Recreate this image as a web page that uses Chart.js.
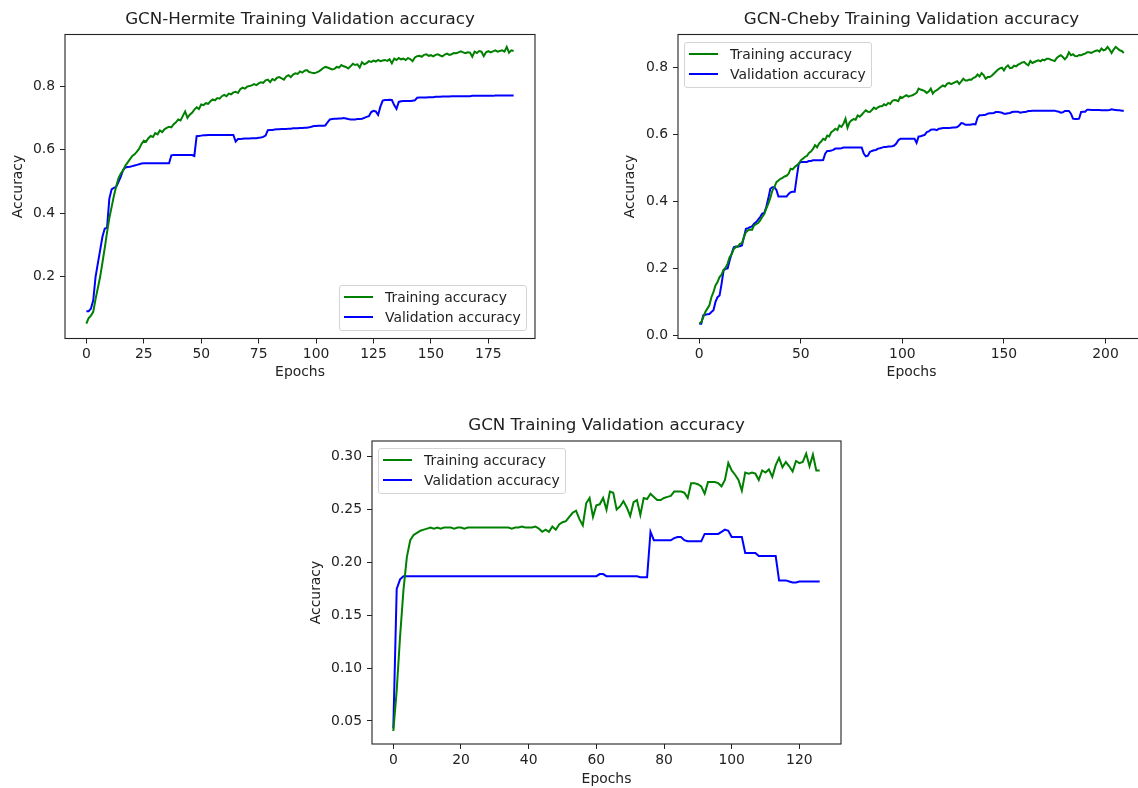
<!DOCTYPE html>
<html>
<head>
<meta charset="utf-8">
<title>GCN Training Validation accuracy</title>
<script src="https://cdn.jsdelivr.net/npm/chart.js@4.4.1/dist/chart.umd.min.js"></script>
<style>
    body { margin: 0; width: 1138px; height: 788px; overflow: hidden; background: #fff; font-family: "DejaVu Sans", sans-serif; }
    canvas { position: absolute; }
    .legend { position: absolute; width: 188px; height: 46px; box-sizing: border-box; border: 1px solid #d4d4d4; border-radius: 3px; background: rgba(255,255,255,0.8); font-size: 13.9px; color: #222; }
    .legend div { position: absolute; left: 4px; height: 20px; display: flex; align-items: center; white-space: nowrap; }
    .legend span { display: inline-block; width: 29px; height: 2px; margin-right: 12px; }
</style>
</head>
<body>
<canvas id="hermite" width="560" height="395" style="left:0px;top:0px"></canvas>
<canvas id="cheby" width="560" height="395" style="left:600px;top:0px"></canvas>
<canvas id="gcn" width="581" height="388" style="left:280px;top:400px"></canvas>
<script>
// GCN-Hermite, epochs 0..186
const hermiteTrain = [
    0.053, 0.07, 0.078, 0.09, 0.13, 0.165, 0.2, 0.245, 0.29, 0.34,
    0.385, 0.42, 0.455, 0.485, 0.51, 0.525, 0.535, 0.55, 0.56, 0.57,
    0.58, 0.585, 0.594, 0.603, 0.618, 0.628, 0.625, 0.636, 0.643, 0.64,
    0.652, 0.648, 0.66, 0.655, 0.664, 0.668, 0.672, 0.67, 0.68, 0.686,
    0.695, 0.692, 0.706, 0.72, 0.7, 0.71, 0.716, 0.726, 0.733, 0.728,
    0.742, 0.74, 0.746, 0.744, 0.752, 0.758, 0.755, 0.762, 0.76, 0.768,
    0.772, 0.768, 0.776, 0.774, 0.78, 0.782, 0.778, 0.79, 0.795, 0.792,
    0.798, 0.8, 0.802, 0.806, 0.803, 0.808, 0.812, 0.81, 0.818, 0.82,
    0.812, 0.822, 0.818, 0.826, 0.828, 0.824, 0.82, 0.83, 0.834, 0.828,
    0.836, 0.84, 0.838, 0.846, 0.842, 0.848, 0.85, 0.844, 0.842, 0.84,
    0.842, 0.845, 0.85, 0.856, 0.86, 0.858, 0.855, 0.852, 0.854, 0.86,
    0.858, 0.866, 0.862, 0.86, 0.855, 0.862, 0.87, 0.866, 0.868, 0.858,
    0.875, 0.868, 0.872, 0.878, 0.876, 0.88, 0.877, 0.882, 0.878, 0.88,
    0.882, 0.879, 0.884, 0.871, 0.886, 0.882, 0.888, 0.884, 0.886, 0.882,
    0.888, 0.885, 0.878, 0.89, 0.894, 0.895, 0.892, 0.898, 0.9, 0.895,
    0.897, 0.893, 0.898, 0.9, 0.896, 0.893, 0.899, 0.902, 0.898, 0.9,
    0.904, 0.903, 0.906, 0.909, 0.906, 0.903, 0.906, 0.905, 0.892, 0.908,
    0.904, 0.91, 0.908, 0.894, 0.906, 0.91, 0.906, 0.909, 0.912, 0.908,
    0.91, 0.912, 0.908, 0.923, 0.905, 0.912, 0.91
];
const hermiteVal = [
    0.092, 0.092, 0.1, 0.126, 0.2, 0.242, 0.284, 0.326, 0.352, 0.354,
    0.446, 0.475, 0.48, 0.483, 0.499, 0.515, 0.536, 0.544, 0.545, 0.546,
    0.548, 0.55, 0.552, 0.554, 0.556, 0.557, 0.557, 0.557, 0.557, 0.557,
    0.557, 0.557, 0.557, 0.557, 0.557, 0.557, 0.557, 0.582, 0.583, 0.583,
    0.583, 0.583, 0.583, 0.583, 0.583, 0.583, 0.583, 0.58, 0.642, 0.643,
    0.644, 0.645, 0.645, 0.646, 0.646, 0.646, 0.646, 0.646, 0.646, 0.646,
    0.646, 0.646, 0.646, 0.646, 0.646, 0.625, 0.633, 0.633, 0.634, 0.635,
    0.635, 0.635, 0.636, 0.636, 0.636, 0.637, 0.638, 0.64, 0.644, 0.661,
    0.662, 0.662, 0.663, 0.664, 0.664, 0.665, 0.665, 0.665, 0.666, 0.666,
    0.667, 0.667, 0.667, 0.668, 0.668, 0.669, 0.669, 0.67, 0.672, 0.674,
    0.674, 0.675, 0.675, 0.675, 0.676, 0.686, 0.695, 0.696, 0.697, 0.697,
    0.698, 0.698, 0.699, 0.698, 0.696, 0.695, 0.695, 0.695, 0.696, 0.696,
    0.697, 0.7, 0.703, 0.705, 0.718, 0.722, 0.72, 0.709, 0.735, 0.754,
    0.756, 0.756, 0.757, 0.756, 0.74, 0.728, 0.75, 0.752, 0.753, 0.753,
    0.753, 0.753, 0.754, 0.755, 0.763, 0.764, 0.764, 0.764, 0.764, 0.765,
    0.765, 0.765, 0.766, 0.766, 0.766, 0.767, 0.767, 0.767, 0.767, 0.768,
    0.768, 0.768, 0.768, 0.768, 0.768, 0.768, 0.768, 0.768, 0.769, 0.769,
    0.769, 0.769, 0.769, 0.769, 0.769, 0.769, 0.769, 0.769, 0.77, 0.77,
    0.77, 0.77, 0.77, 0.77, 0.77, 0.77, 0.77
];

// GCN-Cheby, epochs 0..209
const chebyTrain = [
    0.035, 0.04, 0.055, 0.07, 0.08, 0.09, 0.114, 0.129, 0.149, 0.159,
    0.174, 0.181, 0.196, 0.202, 0.215, 0.234, 0.242, 0.258, 0.263, 0.265,
    0.273, 0.275, 0.293, 0.308, 0.313, 0.316, 0.315, 0.328, 0.332, 0.335,
    0.343, 0.353, 0.362, 0.378, 0.393, 0.41, 0.432, 0.442, 0.457, 0.462,
    0.467, 0.47, 0.474, 0.476, 0.482, 0.497, 0.495, 0.502, 0.507, 0.512,
    0.522, 0.527, 0.532, 0.535, 0.544, 0.548, 0.556, 0.567, 0.561, 0.572,
    0.578, 0.586, 0.583, 0.596, 0.593, 0.606, 0.61, 0.616, 0.612, 0.626,
    0.622, 0.631, 0.646, 0.619, 0.635, 0.641, 0.645, 0.643, 0.656, 0.652,
    0.658, 0.665, 0.671, 0.667, 0.666, 0.672, 0.679, 0.675, 0.68, 0.683,
    0.683, 0.689, 0.686, 0.693, 0.69, 0.699, 0.702, 0.701, 0.698, 0.711,
    0.708, 0.713, 0.716, 0.712, 0.714, 0.716, 0.719, 0.723, 0.736, 0.733,
    0.731, 0.728, 0.723, 0.727, 0.736, 0.721, 0.728, 0.731, 0.736, 0.741,
    0.745, 0.742, 0.75, 0.753, 0.749, 0.752, 0.755, 0.758, 0.75, 0.757,
    0.765, 0.76, 0.76, 0.763, 0.762, 0.768, 0.77, 0.778, 0.772, 0.782,
    0.776, 0.765, 0.77, 0.77, 0.774, 0.78, 0.786, 0.792, 0.796, 0.798,
    0.79, 0.8, 0.805, 0.797, 0.798, 0.804, 0.802, 0.807, 0.81, 0.814,
    0.815, 0.809, 0.805, 0.818, 0.812, 0.815, 0.818, 0.82, 0.817, 0.822,
    0.82, 0.825, 0.825, 0.822, 0.82, 0.818, 0.827, 0.832, 0.835, 0.83,
    0.823, 0.83, 0.844, 0.835, 0.838, 0.833, 0.832, 0.836, 0.835, 0.838,
    0.84, 0.844, 0.844, 0.842, 0.845, 0.848, 0.85, 0.846, 0.855, 0.85,
    0.852, 0.86, 0.852, 0.842, 0.852, 0.86, 0.855, 0.85, 0.848, 0.842
];
const chebyVal = [
    0.035, 0.035, 0.06, 0.062, 0.063, 0.064, 0.07, 0.075, 0.1, 0.114,
    0.119, 0.154, 0.194, 0.199, 0.2, 0.224, 0.245, 0.263, 0.265, 0.265,
    0.266, 0.268, 0.293, 0.318, 0.32, 0.323, 0.325, 0.333, 0.338, 0.345,
    0.353, 0.363, 0.365, 0.383, 0.408, 0.437, 0.442, 0.442, 0.434, 0.414,
    0.414, 0.414, 0.414, 0.414, 0.422, 0.427, 0.428, 0.428, 0.472, 0.512,
    0.517, 0.517, 0.517, 0.517, 0.52, 0.52, 0.522, 0.522, 0.522, 0.522,
    0.522, 0.523, 0.542, 0.55, 0.55, 0.551, 0.553, 0.557, 0.557, 0.557,
    0.558, 0.56, 0.56, 0.56, 0.56, 0.56, 0.56, 0.56, 0.56, 0.56,
    0.56, 0.542, 0.534, 0.536, 0.547, 0.55, 0.552, 0.553, 0.557, 0.558,
    0.56, 0.562, 0.562, 0.563, 0.563, 0.564, 0.566, 0.572, 0.582, 0.586,
    0.586, 0.586, 0.586, 0.586, 0.586, 0.586, 0.586, 0.574, 0.593, 0.594,
    0.596, 0.598, 0.606, 0.608, 0.613, 0.614, 0.614, 0.612, 0.616, 0.617,
    0.618, 0.618, 0.618, 0.618, 0.619, 0.62, 0.62, 0.621, 0.626, 0.633,
    0.632, 0.628, 0.628, 0.628, 0.629, 0.63, 0.629, 0.649, 0.656, 0.656,
    0.657, 0.658, 0.661, 0.662, 0.662, 0.663, 0.666, 0.666, 0.665, 0.664,
    0.661, 0.661, 0.662, 0.663, 0.666, 0.667, 0.667, 0.667, 0.664, 0.665,
    0.666, 0.667, 0.669, 0.669, 0.67, 0.67, 0.67, 0.67, 0.67, 0.67,
    0.67, 0.67, 0.67, 0.67, 0.67, 0.67, 0.668, 0.667, 0.664, 0.665,
    0.669, 0.669, 0.669, 0.661, 0.646, 0.645, 0.645, 0.646, 0.666, 0.667,
    0.667, 0.673, 0.673, 0.672, 0.672, 0.672, 0.672, 0.672, 0.671, 0.671,
    0.671, 0.671, 0.672, 0.674, 0.673, 0.672, 0.671, 0.671, 0.67, 0.67
];

// plain GCN, epochs 0..126
const gcnTrain = [
    0.0405, 0.079, 0.13, 0.174, 0.205, 0.221, 0.226, 0.228, 0.23, 0.231,
    0.232, 0.233, 0.232, 0.233, 0.232, 0.233, 0.233, 0.233, 0.232, 0.233,
    0.233, 0.232, 0.233, 0.233, 0.233, 0.233, 0.233, 0.233, 0.233, 0.233,
    0.233, 0.233, 0.233, 0.233, 0.233, 0.232, 0.233, 0.233, 0.234, 0.233,
    0.233, 0.233, 0.234, 0.232, 0.229, 0.231, 0.229, 0.234, 0.231, 0.236,
    0.238, 0.239, 0.243, 0.247, 0.249, 0.241, 0.235, 0.256, 0.261, 0.243,
    0.254, 0.255, 0.261, 0.25, 0.267, 0.266, 0.25, 0.253, 0.258, 0.252,
    0.244, 0.257, 0.259, 0.245, 0.261, 0.26, 0.265, 0.262, 0.259, 0.259,
    0.261, 0.262, 0.263, 0.267, 0.267, 0.267, 0.266, 0.261, 0.275, 0.275,
    0.274, 0.272, 0.265, 0.276, 0.276, 0.276, 0.275, 0.272, 0.278, 0.294,
    0.287, 0.283, 0.278, 0.268, 0.285, 0.284, 0.285, 0.284, 0.278, 0.287,
    0.285, 0.288, 0.281, 0.292, 0.299, 0.29, 0.295, 0.291, 0.286, 0.296,
    0.294, 0.295, 0.303, 0.291, 0.302, 0.287, 0.287
];
const gcnVal = [
    0.043, 0.175, 0.184, 0.187, 0.187, 0.187, 0.187, 0.187, 0.187, 0.187,
    0.187, 0.187, 0.187, 0.187, 0.187, 0.187, 0.187, 0.187, 0.187, 0.187,
    0.187, 0.187, 0.187, 0.187, 0.187, 0.187, 0.187, 0.187, 0.187, 0.187,
    0.187, 0.187, 0.187, 0.187, 0.187, 0.187, 0.187, 0.187, 0.187, 0.187,
    0.187, 0.187, 0.187, 0.187, 0.187, 0.187, 0.187, 0.187, 0.187, 0.187,
    0.187, 0.187, 0.187, 0.187, 0.187, 0.187, 0.187, 0.187, 0.187, 0.187,
    0.187, 0.189, 0.189, 0.187, 0.187, 0.187, 0.187, 0.187, 0.187, 0.187,
    0.187, 0.187, 0.187, 0.186, 0.186, 0.186, 0.229, 0.221, 0.221, 0.221,
    0.221, 0.221, 0.221, 0.223, 0.224, 0.224, 0.221, 0.22, 0.22, 0.22,
    0.22, 0.22, 0.227, 0.227, 0.227, 0.227, 0.227, 0.229, 0.231, 0.23,
    0.224, 0.224, 0.224, 0.224, 0.209, 0.209, 0.209, 0.209, 0.206, 0.206,
    0.206, 0.206, 0.206, 0.206, 0.183, 0.183, 0.183, 0.182, 0.181, 0.181,
    0.182, 0.182, 0.182, 0.182, 0.182, 0.182, 0.182
];

// tick values
const hermiteXTicks = [0, 25, 50, 75, 100, 125, 150, 175];
const hermiteYTicks = [0.2, 0.4, 0.6, 0.8];
const chebyXTicks = [0, 50, 100, 150, 200];
const chebyYTicks = [0.0, 0.2, 0.4, 0.6, 0.8];
const gcnXTicks = [0, 20, 40, 60, 80, 100, 120];
const gcnYTicks = [0.05, 0.10, 0.15, 0.20, 0.25, 0.30];

const FONT = '"DejaVu Sans", sans-serif';
const TEXT = '#222';

// black box round the plot area, like matplotlib spines
const frame = {
    id: 'frame',
    afterDraw(chart) {
        const a = chart.chartArea;
        const ctx = chart.ctx;
        ctx.save();
        ctx.strokeStyle = '#222';
        ctx.lineWidth = 1.1;
        ctx.strokeRect(a.left, a.top, a.right - a.left, a.bottom - a.top);
        ctx.restore();
    }
};

function points(values) {
    return values.map((v, i) => ({ x: i, y: v }));
}

function makeChart(id, c) {
    const tickFont = { family: FONT, size: 13.9 };
    const axisTitle = (text, pad) => ({
        display: true, text, color: TEXT,
        font: { family: FONT, size: 13.9, lineHeight: 1.2 },
        padding: pad
    });
    const grid = { display: true, drawOnChartArea: false, drawTicks: true, tickLength: 5, tickColor: '#222', tickWidth: 1 };

    return new Chart(document.getElementById(id), {
        type: 'line',
        data: {
            datasets: [
                { label: 'Training accuracy', data: points(c.train), borderColor: '#008000', borderWidth: 2, pointRadius: 0, tension: 0 },
                { label: 'Validation accuracy', data: points(c.val), borderColor: '#0000ff', borderWidth: 2, pointRadius: 0, tension: 0 }
            ]
        },
        options: {
            responsive: false,
            animation: false,
            devicePixelRatio: 1,
            layout: { padding: { left: 0, top: c.padTop, right: c.padRight, bottom: 0 } },
            plugins: {
                legend: { display: false },
                tooltip: { enabled: false },
                title: {
                    display: true, text: c.title, fullSize: false, color: TEXT,
                    font: { family: FONT, size: 16.7, weight: 'normal', lineHeight: 1.2 },
                    padding: { top: 0, bottom: c.titleGap }
                }
            },
            scales: {
                x: {
                    type: 'linear', min: c.xMin, max: c.xMax,
                    afterFit: s => { s.height = c.xAxisH; },
                    afterBuildTicks: s => { s.ticks = c.xTicks.map(v => ({ value: v })); },
                    ticks: { font: tickFont, color: TEXT, padding: 3, maxRotation: 0, autoSkip: false, callback: v => String(v) },
                    grid, border: { display: false },
                    title: axisTitle('Epochs', { top: 0, bottom: c.xTitlePad })
                },
                y: {
                    min: c.yMin, max: c.yMax,
                    afterFit: s => { s.width = c.yAxisW; },
                    afterBuildTicks: s => { s.ticks = c.yTicks.map(v => ({ value: v })); },
                    ticks: { font: tickFont, color: TEXT, padding: 5, autoSkip: false, callback: v => v.toFixed(c.yDec) },
                    grid, border: { display: false },
                    title: axisTitle('Accuracy', { top: c.yTitlePad, bottom: 0 })
                }
            }
        },
        plugins: [frame]
    });
}

// legend box inside the plot, built from the chart's datasets
function addLegend(chart, left, top) {
    const box = document.createElement('div');
    box.className = 'legend';
    box.style.left = left + 'px';
    box.style.top = top + 'px';
    chart.data.datasets.forEach((ds, i) => {
        const row = document.createElement('div');
        row.style.top = (0.7 + i * 20.6) + 'px';
        const sw = document.createElement('span');
        sw.style.background = ds.borderColor;
        row.appendChild(sw);
        row.appendChild(document.createTextNode(ds.label));
        box.appendChild(row);
    });
    document.body.appendChild(box);
}

const hermite = makeChart('hermite', {
    title: 'GCN-Hermite Training Validation accuracy',
    train: hermiteTrain, val: hermiteVal,
    xTicks: hermiteXTicks, yTicks: hermiteYTicks, yDec: 1,
    xMin: -9.3, xMax: 195.3, yMin: 0.006, yMax: 0.962,
    padTop: 10, padRight: 25, titleGap: 4.46,
    yAxisW: 65, yTitlePad: 9.66, xAxisH: 56.5, xTitlePad: 14.16
});
addLegend(hermite, 339, 285);

const cheby = makeChart('cheby', {
    title: 'GCN-Cheby Training Validation accuracy',
    train: chebyTrain, val: chebyVal,
    xTicks: chebyXTicks, yTicks: chebyYTicks, yDec: 1,
    xMin: -10.45, xMax: 219.45, yMin: -0.009, yMax: 0.897,
    padTop: 10, padRight: 15, titleGap: 4.46,
    yAxisW: 78, yTitlePad: 21.66, xAxisH: 56.5, xTitlePad: 14.16
});
addLegend(cheby, 684, 42);

const gcn = makeChart('gcn', {
    title: 'GCN Training Validation accuracy',
    train: gcnTrain, val: gcnVal,
    xTicks: gcnXTicks, yTicks: gcnYTicks, yDec: 2,
    xMin: -6.3, xMax: 132.3, yMin: 0.0282, yMax: 0.3149,
    padTop: 16, padRight: 20, titleGap: 4.96,
    yAxisW: 92, yTitlePad: 27.66, xAxisH: 44, xTitlePad: 0.16
});
addLegend(gcn, 378, 448);
</script>
</body>
</html>
